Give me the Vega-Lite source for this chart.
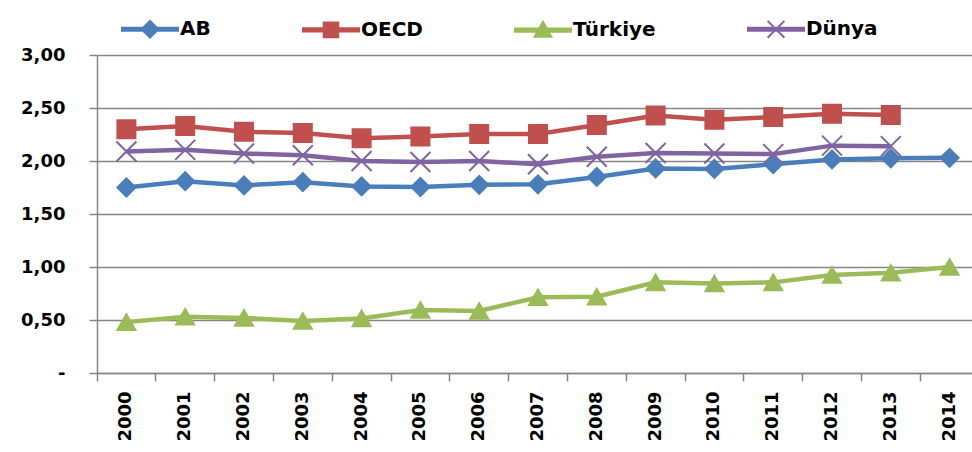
{
  "$schema": "https://vega.github.io/schema/vega-lite/v6.json",
  "width": 882,
  "height": 318,
  "autosize": {"type": "none"},
  "padding": {"left": 97, "top": 55, "right": -7, "bottom": 79},
  "background": "white",
  "config": {
    "view": {"stroke": null},
    "font": "DejaVu Sans"
  },
  "data": {
    "values": [
      {"year": "2000", "series": "AB", "value": 1.75},
      {"year": "2001", "series": "AB", "value": 1.81},
      {"year": "2002", "series": "AB", "value": 1.77},
      {"year": "2003", "series": "AB", "value": 1.80},
      {"year": "2004", "series": "AB", "value": 1.76},
      {"year": "2005", "series": "AB", "value": 1.755},
      {"year": "2006", "series": "AB", "value": 1.775},
      {"year": "2007", "series": "AB", "value": 1.78},
      {"year": "2008", "series": "AB", "value": 1.85},
      {"year": "2009", "series": "AB", "value": 1.93},
      {"year": "2010", "series": "AB", "value": 1.925},
      {"year": "2011", "series": "AB", "value": 1.97},
      {"year": "2012", "series": "AB", "value": 2.015},
      {"year": "2013", "series": "AB", "value": 2.025},
      {"year": "2014", "series": "AB", "value": 2.03},
      {"year": "2000", "series": "OECD", "value": 2.30},
      {"year": "2001", "series": "OECD", "value": 2.33},
      {"year": "2002", "series": "OECD", "value": 2.275},
      {"year": "2003", "series": "OECD", "value": 2.265},
      {"year": "2004", "series": "OECD", "value": 2.215},
      {"year": "2005", "series": "OECD", "value": 2.23},
      {"year": "2006", "series": "OECD", "value": 2.255},
      {"year": "2007", "series": "OECD", "value": 2.255},
      {"year": "2008", "series": "OECD", "value": 2.34},
      {"year": "2009", "series": "OECD", "value": 2.43},
      {"year": "2010", "series": "OECD", "value": 2.39},
      {"year": "2011", "series": "OECD", "value": 2.415},
      {"year": "2012", "series": "OECD", "value": 2.445},
      {"year": "2013", "series": "OECD", "value": 2.435},
      {"year": "2000", "series": "Türkiye", "value": 0.48},
      {"year": "2001", "series": "Türkiye", "value": 0.53},
      {"year": "2002", "series": "Türkiye", "value": 0.52},
      {"year": "2003", "series": "Türkiye", "value": 0.49},
      {"year": "2004", "series": "Türkiye", "value": 0.515},
      {"year": "2005", "series": "Türkiye", "value": 0.595},
      {"year": "2006", "series": "Türkiye", "value": 0.585},
      {"year": "2007", "series": "Türkiye", "value": 0.715},
      {"year": "2008", "series": "Türkiye", "value": 0.72},
      {"year": "2009", "series": "Türkiye", "value": 0.855},
      {"year": "2010", "series": "Türkiye", "value": 0.845},
      {"year": "2011", "series": "Türkiye", "value": 0.855},
      {"year": "2012", "series": "Türkiye", "value": 0.925},
      {"year": "2013", "series": "Türkiye", "value": 0.945},
      {"year": "2014", "series": "Türkiye", "value": 1.00},
      {"year": "2000", "series": "Dünya", "value": 2.09},
      {"year": "2001", "series": "Dünya", "value": 2.105},
      {"year": "2002", "series": "Dünya", "value": 2.07},
      {"year": "2003", "series": "Dünya", "value": 2.055},
      {"year": "2004", "series": "Dünya", "value": 2.00},
      {"year": "2005", "series": "Dünya", "value": 1.99},
      {"year": "2006", "series": "Dünya", "value": 2.00},
      {"year": "2007", "series": "Dünya", "value": 1.97},
      {"year": "2008", "series": "Dünya", "value": 2.04},
      {"year": "2009", "series": "Dünya", "value": 2.075},
      {"year": "2010", "series": "Dünya", "value": 2.07},
      {"year": "2011", "series": "Dünya", "value": 2.065},
      {"year": "2012", "series": "Dünya", "value": 2.145},
      {"year": "2013", "series": "Dünya", "value": 2.14}
    ]
  },
  "encoding": {
    "x": {
      "field": "year",
      "type": "ordinal",
      "scale": {"type": "band", "paddingInner": 0, "paddingOuter": 0},
      "axis": {
        "title": null,
        "labelAngle": -90,
        "labelFont": "DejaVu Sans",
        "labelFontWeight": "bold",
        "labelFontSize": 18,
        "labelColor": "#000000",
        "labelPadding": 10,
        "bandPosition": 0,
        "domainColor": "#868686",
        "domainWidth": 1.5,
        "tickColor": "#868686",
        "tickWidth": 1.5,
        "tickSize": 8
      }
    },
    "y": {
      "field": "value",
      "type": "quantitative",
      "scale": {"domain": [0, 3], "nice": false, "zero": true},
      "axis": {
        "title": null,
        "values": [0, 0.5, 1, 1.5, 2, 2.5, 3],
        "labelExpr": "datum.value == 0 ? '-\u00a0\u00a0' : replace(format(datum.value, '.2f'), '.', ',')",
        "labelFont": "DejaVu Sans",
        "labelFontWeight": "bold",
        "labelFontSize": 18,
        "labelColor": "#000000",
        "labelPadding": 24,
        "grid": true,
        "gridColor": "#868686",
        "gridWidth": 1.5,
        "domainColor": "#868686",
        "domainWidth": 1.5,
        "tickColor": "#868686",
        "tickWidth": 1.5,
        "tickSize": 8
      }
    }
  },
  "layer": [
    {
      "mark": {"type": "line", "strokeWidth": 4.5},
      "encoding": {
        "color": {
          "field": "series",
          "type": "nominal",
          "scale": {
            "domain": ["AB", "OECD", "Türkiye", "Dünya"],
            "range": ["#4A7EBB", "#C0504D", "#9BBB59", "#8064A2"]
          },
          "legend": {
            "title": null,
            "orient": "none",
            "legendX": 24,
            "legendY": -55,
            "direction": "horizontal",
            "columns": 4,
            "columnPadding": 88,
            "padding": 0,
            "symbolSize": 3136,
            "labelFont": "DejaVu Sans",
            "labelFontWeight": "bold",
            "labelFontSize": 20,
            "labelColor": "#000000",
            "labelOffset": 1,
            "encode": {
              "symbols": {
                "update": {
                  "shape": {"signal": "datum.value == 'AB' ? 'M-1,-0.055H1V0.055H-1Z M0,-0.3L0.3,0L0,0.3L-0.3,0Z' : datum.value == 'OECD' ? 'M-1,-0.055H1V0.055H-1Z M-0.26,-0.26H0.26V0.26H-0.26Z' : datum.value == 'Türkiye' ? 'M-1,-0.055H1V0.055H-1Z M0,-0.3L0.3,0.24L-0.3,0.24Z' : 'M-1,-0.055H1V0.055H-1Z M-0.3,-0.3L0.3,0.3M-0.3,0.3L0.3,-0.3'"},
                  "fill": {"scale": "color", "field": "value"},
                  "stroke": {"scale": "color", "field": "value"},
                  "strokeWidth": {"value": 2},
                  "opacity": {"value": 1}
                }
              }
            }
          }
        }
      }
    },
    {
      "transform": [{"filter": "datum.series == 'AB'"}],
      "mark": {"type": "point", "shape": "diamond", "filled": true, "size": 324, "opacity": 1, "strokeWidth": 2, "color": "#4A7EBB", "stroke": "#4A7EBB"}
    },
    {
      "transform": [{"filter": "datum.series == 'OECD'"}],
      "mark": {"type": "point", "shape": "square", "filled": true, "size": 324, "opacity": 1, "strokeWidth": 2, "color": "#C0504D", "stroke": "#C0504D"}
    },
    {
      "transform": [{"filter": "datum.series == 'Türkiye'"}],
      "mark": {"type": "point", "shape": "triangle-up", "filled": true, "size": 324, "opacity": 1, "strokeWidth": 2, "color": "#9BBB59", "stroke": "#9BBB59"}
    },
    {
      "transform": [{"filter": "datum.series == 'Dünya'"}],
      "mark": {"type": "point", "shape": "M-1,-1L1,1M-1,1L1,-1", "filled": false, "size": 400, "opacity": 1, "strokeWidth": 2, "color": "#8064A2", "stroke": "#8064A2"}
    }
  ]
}
